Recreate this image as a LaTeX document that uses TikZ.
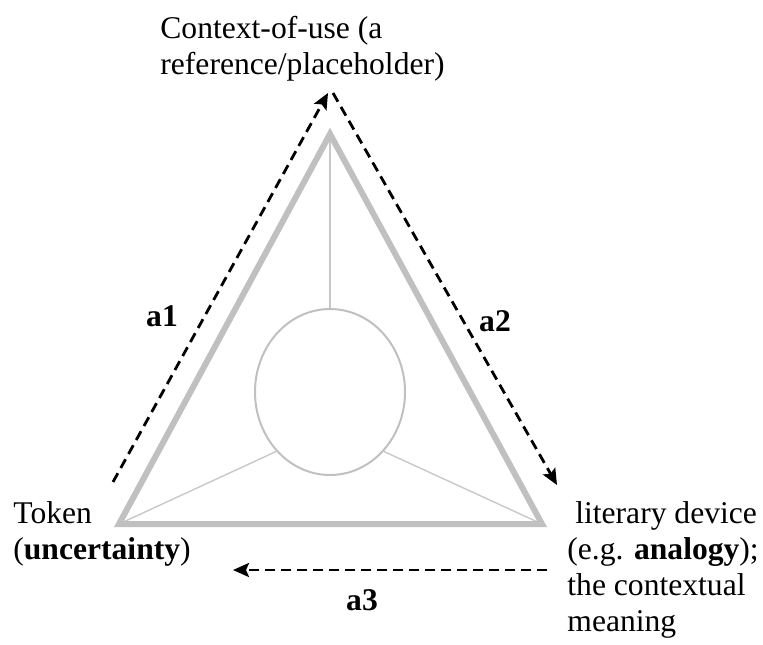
\documentclass[tikz,border=0pt]{standalone}
\usepackage{fontspec}
\setmainfont{Liberation Serif}
\usetikzlibrary{positioning, arrows.meta, shapes.geometric}
\definecolor{TriGray}{RGB}{192,192,192}
\definecolor{SpokeGray}{RGB}{200,200,200}
\tikzset{
    edgeline/.style={
        draw=TriGray, line width=3pt
    },
    spoke/.style={
        draw=SpokeGray, line width=0.7pt
    },
    flow/.style={
        -{Stealth[length=8pt, width=7pt, inset=1.5pt]}, dash pattern=on 5pt off 3pt, line width=1.4pt, black
    },
    cornertext/.style={
        align=left, anchor=north west, inner sep=0pt, font=\fontsize{15.8}{18}\selectfont
    },
    arclabel/.style={
        inner sep=0pt, font=\fontsize{15.8}{18}\selectfont\bfseries
    }
}

\begin{document}
\begin{tikzpicture}[x=0.5pt, y=-0.5pt]
    \useasboundingbox (0,0) rectangle (763,644);

    % --- TRIANGLE AND HUB ---
    \coordinate (vctx) at (330,134);
    \coordinate (vtok) at (119,524);
    \coordinate (vdev) at (542,524);
    \node[ellipse, draw=TriGray, line width=1pt, minimum width=75pt, minimum height=83pt, inner sep=0pt] (hub) at (330,392) {};

    \draw[spoke] (vctx) -- (hub.north);
    \draw[spoke] (vtok) -- (hub.south west);
    \draw[spoke] (vdev) -- (hub.south east);
    \draw[edgeline] (vctx) -- (vtok) -- (vdev) -- cycle;

    % --- CORNER TEXTS ---
    \node[cornertext] (ctx) at (160,16) {Context-of-use (a\\reference/placeholder)};
    \node[cornertext] (tok) at (13,501) {Token\\(\textbf{uncertainty})};
    \node[cornertext] (dev) at (567,501) {\ literary device\\(e.g. \textbf{analogy});\\the contextual\\meaning};

    % --- DASHED ARROWS ---
    \coordinate (a1s) at (113,482);
    \coordinate (a1e) at (328,93);
    \coordinate (a2s) at (333,93);
    \coordinate (a2e) at (557,485);
    \coordinate (a3s) at (547,570);
    \coordinate (a3e) at (233,570);
    \draw[flow] (a1s) -- (a1e);
    \draw[flow] (a2s) -- (a2e);
    \draw[flow] (a3s) -- (a3e);

    \node[arclabel] (la1) at (162,316) {a1};
    \node[arclabel] (la2) at (495,321) {a2};
    \node[arclabel] (la3) at (362,600) {a3};

\end{tikzpicture}
\end{document}
